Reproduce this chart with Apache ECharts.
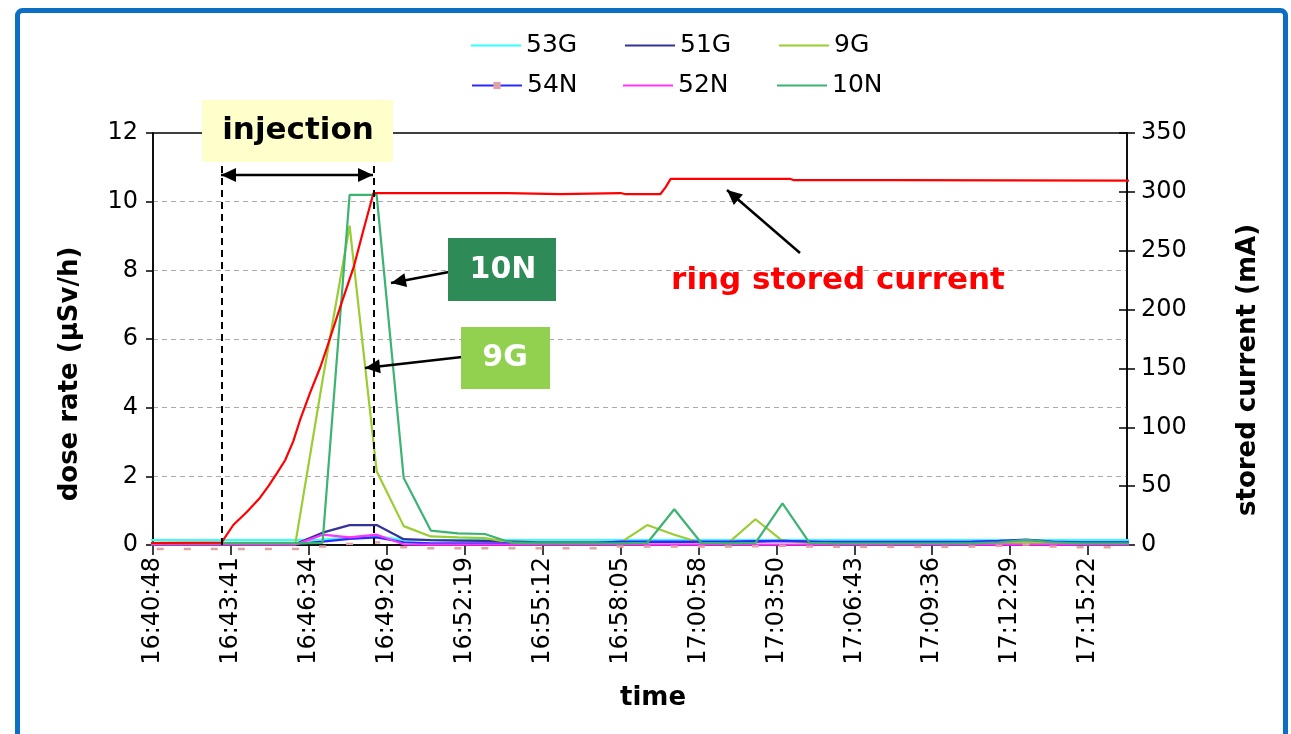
<!DOCTYPE html>
<html><head><meta charset="utf-8">
<script src="https://cdn.jsdelivr.net/npm/echarts@6/dist/echarts.min.js"></script>
<style>html,body{margin:0;padding:0;background:#fff}#c{width:1291px;height:734px}</style>
</head><body><div id="c"></div>
<script>
// ---------- data ----------
const tickLabels = ['16:40:48','16:43:41','16:46:34','16:49:26','16:52:19','16:55:12','16:58:05',
  '17:00:58','17:03:50','17:06:43','17:09:36','17:12:29','17:15:22'];
const axisStart = '16:40:48';
const axisEnd = '17:16:48';
const tickStepSec = 172.8;

const doseTimes = ['16:40:04','16:41:04','16:42:04','16:43:04','16:44:04','16:45:04','16:46:04','16:47:04',
  '16:48:04','16:49:04','16:50:04','16:51:04','16:52:04','16:53:04','16:54:04','16:55:04','16:56:04',
  '16:57:04','16:58:04','16:59:04','17:00:04','17:01:04','17:02:04','17:03:04','17:04:04','17:05:04',
  '17:06:04','17:07:04','17:08:04','17:09:04','17:10:04','17:11:04','17:12:04','17:13:04','17:14:04',
  '17:15:04','17:16:04','17:17:04'];

const s53G = [0.14,0.14,0.14,0.14,0.14,0.14,0.14,0.16,0.22,0.26,0.14,0.14,0.14,0.14,0.14,0.14,0.14,
  0.14,0.14,0.14,0.14,0.14,0.14,0.14,0.14,0.14,0.14,0.14,0.14,0.14,0.14,0.14,0.14,0.14,0.14,0.14,0.14,0.14];
const s51G = [0.03,0.03,0.03,0.03,0.03,0.03,0.03,0.36,0.58,0.58,0.17,0.14,0.13,0.12,0.10,0.08,0.08,
  0.08,0.08,0.08,0.08,0.08,0.08,0.10,0.12,0.10,0.07,0.07,0.07,0.07,0.07,0.07,0.07,0.07,0.07,0.07,0.07,0.07];
const s9G = [0.06,0.06,0.06,0.06,0.06,0.06,0.06,4.8,9.3,2.15,0.55,0.25,0.22,0.20,0.07,0.06,0.06,
  0.06,0.06,0.58,0.30,0.06,0.06,0.75,0.12,0.06,0.06,0.06,0.06,0.06,0.06,0.06,0.06,0.06,0.06,0.06,0.06,0.06];
const s54N = [0.03,0.03,0.03,0.03,0.03,0.03,0.03,0.10,0.18,0.22,0.08,0.05,0.05,0.05,0.05,0.05,0.05,
  0.05,0.10,0.10,0.10,0.10,0.10,0.11,0.12,0.10,0.09,0.09,0.09,0.09,0.09,0.10,0.12,0.16,0.10,0.08,0.08,0.08];
const s52N = [0.01,0.01,0.01,0.01,0.01,0.01,0.01,0.30,0.22,0.30,0.02,0.01,0.01,0.01,0.01,0.01,0.01,
  0.01,0.01,0.01,0.01,0.01,0.01,0.01,0.01,0.01,0.01,0.01,0.01,0.01,0.01,0.01,0.01,0.01,0.01,0.01,0.01,0.01];
const s10N = [0.05,0.05,0.05,0.05,0.05,0.05,0.05,0.06,10.2,10.2,1.95,0.42,0.34,0.32,0.06,0.05,0.05,
  0.05,0.05,0.06,1.04,0.06,0.05,0.06,1.21,0.06,0.05,0.05,0.05,0.05,0.05,0.05,0.08,0.15,0.08,0.05,0.05,0.05];

const ringTimes = ['16:39:08','16:43:20','16:43:46','16:44:16','16:44:45','16:45:04','16:45:23','16:45:41',
  '16:45:59','16:46:14','16:46:36','16:46:59','16:47:14','16:47:43','16:48:13','16:48:35','16:48:57',
  '16:53:54','16:53:58','16:55:52','16:55:56','16:58:05','16:58:16','16:59:33','16:59:45','16:59:56',
  '17:04:22','17:04:28','17:08:28','17:08:32','17:19:08'];
const ringCurrent = [1.5,2,17,28,40,50,61,72,88,106,129,151,168,202,236,268,299,
  299,298,298,299,299,298,298,304,311,311,310,310,309.5,309.5];

const injectionStart = '16:43:20';
const injectionEnd = '16:48:57';

// ---------- helpers ----------
function toSec(s){const p=s.split(':').map(Number);return p[0]*3600+p[1]*60+p[2];}
const T0 = toSec(axisStart);
const rel = s => toSec(s) - T0;
const pairs = (times, vals) => times.map((t,i)=>[rel(t), vals[i]]);

const FONT = '"DejaVu Sans", Verdana, sans-serif';

function doseSeries(name, vals, color, extra){
  return Object.assign({
    name, type:'line', data: pairs(doseTimes, vals), xAxisIndex:0, yAxisIndex:0,
    symbol:'none', showSymbol:false, clip:true,
    lineStyle:{color, width:2.2}, itemStyle:{color}
  }, extra||{});
}

function arrowHead(x1,y1,x2,y2,len,half){
  const dx=x2-x1, dy=y2-y1, L=Math.hypot(dx,dy), ux=dx/L, uy=dy/L;
  const bx=x2-ux*len, by=y2-uy*len;
  return {type:'polygon', z:100, shape:{points:[[x2,y2],[bx-uy*half,by+ux*half],[bx+uy*half,by-ux*half]]},
    style:{fill:'#000'}};
}
function arrow(x1,y1,x2,y2,double){
  const els=[{type:'line', z:100, shape:{x1,y1,x2,y2}, style:{stroke:'#000', lineWidth:2.5}}];
  els.push(arrowHead(x1,y1,x2,y2,15,7));
  if(double) els.push(arrowHead(x2,y2,x1,y1,15,7));
  return els;
}

const legendPos = [
  ['53G',470,33,false],['51G',624,33,false],['9G',778,33,false],
  ['54N',471,73,true],['52N',622,73,false],['10N',776,73,false]
];

const chart = echarts.init(document.getElementById('c'), null, {renderer:'canvas'});
const option = {
  animation:false,
  backgroundColor:'#fff',
  textStyle:{fontFamily:FONT},
  grid:{left:153, right:164, top:133, bottom:189, show:true, borderColor:'#000', borderWidth:1.5, backgroundColor:'transparent'},
  legend: legendPos.map(([n,l,t,mk])=>({
    data:[n], left:l, top:t, itemWidth:50, itemHeight:mk?9:14, padding:0, selectedMode:false,
    itemStyle: mk ? {} : {opacity:0},
    textStyle:{fontFamily:FONT, fontSize:25, color:'#000'}
  })),
  xAxis:{
    type:'value', min:0, max:rel(axisEnd), interval:tickStepSec,
    name:'time', nameLocation:'middle', nameGap:140,
    nameTextStyle:{fontFamily:FONT, fontSize:26, fontWeight:'bold', color:'#000', padding:[0,0,0,26]},
    axisLine:{show:true, lineStyle:{color:'#000', width:1.5}},
    axisTick:{show:true, length:10, lineStyle:{color:'#000', width:1.5}},
    splitLine:{show:false},
    axisLabel:{rotate:90, margin:12, fontFamily:FONT, fontSize:24, color:'#000', showMaxLabel:false,
      formatter:v=>{const i=v/tickStepSec, r=Math.round(i); return Math.abs(i-r)<0.01 && tickLabels[r]!==undefined ? tickLabels[r] : '';}}
  },
  yAxis:[
    {type:'value', min:0, max:12, interval:2, position:'left',
     name:'dose rate (µSv/h)', nameLocation:'middle', nameGap:70, nameRotate:90,
     nameTextStyle:{fontFamily:FONT, fontSize:26, fontWeight:'bold', color:'#000', padding:[0,70,0,0]},
     axisLine:{show:true, lineStyle:{color:'#000', width:1.5}},
     axisTick:{show:true, length:7, lineStyle:{color:'#000', width:1.5}},
     axisLabel:{margin:15, fontFamily:FONT, fontSize:24, color:'#000'},
     splitLine:{show:true, showMaxLine:false, showMinLine:false, lineStyle:{color:'#aaaaaa', width:1, type:[5,4]}}},
    {type:'value', min:0, max:350, interval:50, position:'right',
     name:'stored current (mA)', nameLocation:'middle', nameGap:108, nameRotate:90,
     nameTextStyle:{fontFamily:FONT, fontSize:26, fontWeight:'bold', color:'#000', padding:[0,62,0,0]},
     axisLine:{show:true, lineStyle:{color:'#000', width:1.5}},
     axisTick:{show:true, length:8, lineStyle:{color:'#000', width:1.5}},
     axisLabel:{margin:14, fontFamily:FONT, fontSize:24, color:'#000'},
     splitLine:{show:false}},
    {type:'value', min:0, max:350, interval:50, position:'right',
     axisLine:{show:false}, axisLabel:{show:false}, splitLine:{show:false},
     axisTick:{show:true, inside:true, length:8, lineStyle:{color:'#000', width:1.5}}}
  ],
  series:[
    doseSeries('53G', s53G, '#33ffff'),
    doseSeries('51G', s51G, '#333399'),
    doseSeries('9G', s9G, '#9acd32'),
    doseSeries('54N', s54N, '#2b2bff', {symbol:'rect', showSymbol:true, symbolSize:[7,2.5], symbolOffset:[0,5],
      itemStyle:{color:'#e0a3a3'}}),
    doseSeries('52N', s52N, '#ff33ff'),
    doseSeries('10N', s10N, '#3cb371'),
    {name:'ring stored current', type:'line', data:pairs(ringTimes, ringCurrent), xAxisIndex:0, yAxisIndex:1,
     symbol:'none', clip:true, lineStyle:{color:'#ff0000', width:2.2}, itemStyle:{color:'#ff0000'}, z:3,
     markLine:{silent:true, symbol:'none', label:{show:false},
       lineStyle:{color:'#000', width:2, type:[7,5]},
       data:[
         [{xAxis:rel(injectionStart), yAxis:322},{xAxis:rel(injectionStart), yAxis:0}],
         [{xAxis:rel(injectionEnd), yAxis:322},{xAxis:rel(injectionEnd), yAxis:0}]
       ]}}
  ],
  graphic:[
    {type:'rect', z:0, silent:true, shape:{x:17.5, y:10.5, width:1268, height:780, r:5},
     style:{fill:'none', stroke:'#0b6fc3', lineWidth:5}},
    ...arrow(221,175,373,175,true),
    ...arrow(470,268,391,283,false),
    ...arrow(462,357,365,368,false),
    ...arrow(800,253,727,190,false),
    {type:'rect', z:110, shape:{x:202, y:100, width:191, height:62}, style:{fill:'#ffffcc'}},
    {type:'text', z:111, x:298, y:131, style:{text:'injection', fill:'#000', font:'bold 31px '+FONT, align:'center', verticalAlign:'middle'}},
    {type:'rect', z:110, shape:{x:448, y:238, width:108, height:63}, style:{fill:'#2e8b57'}},
    {type:'text', z:111, x:503, y:270, style:{text:'10N', fill:'#fff', font:'bold 30px '+FONT, align:'center', verticalAlign:'middle'}},
    {type:'rect', z:110, shape:{x:461, y:327, width:89, height:62}, style:{fill:'#92d050'}},
    {type:'text', z:111, x:505, y:358, style:{text:'9G', fill:'#fff', font:'bold 30px '+FONT, align:'center', verticalAlign:'middle'}},
    {type:'text', z:111, x:838, y:281, style:{text:'ring stored current', fill:'#ff0000', font:'bold 31px '+FONT, align:'center', verticalAlign:'middle'}}
  ]
};
chart.setOption(option);
</script></body></html>
